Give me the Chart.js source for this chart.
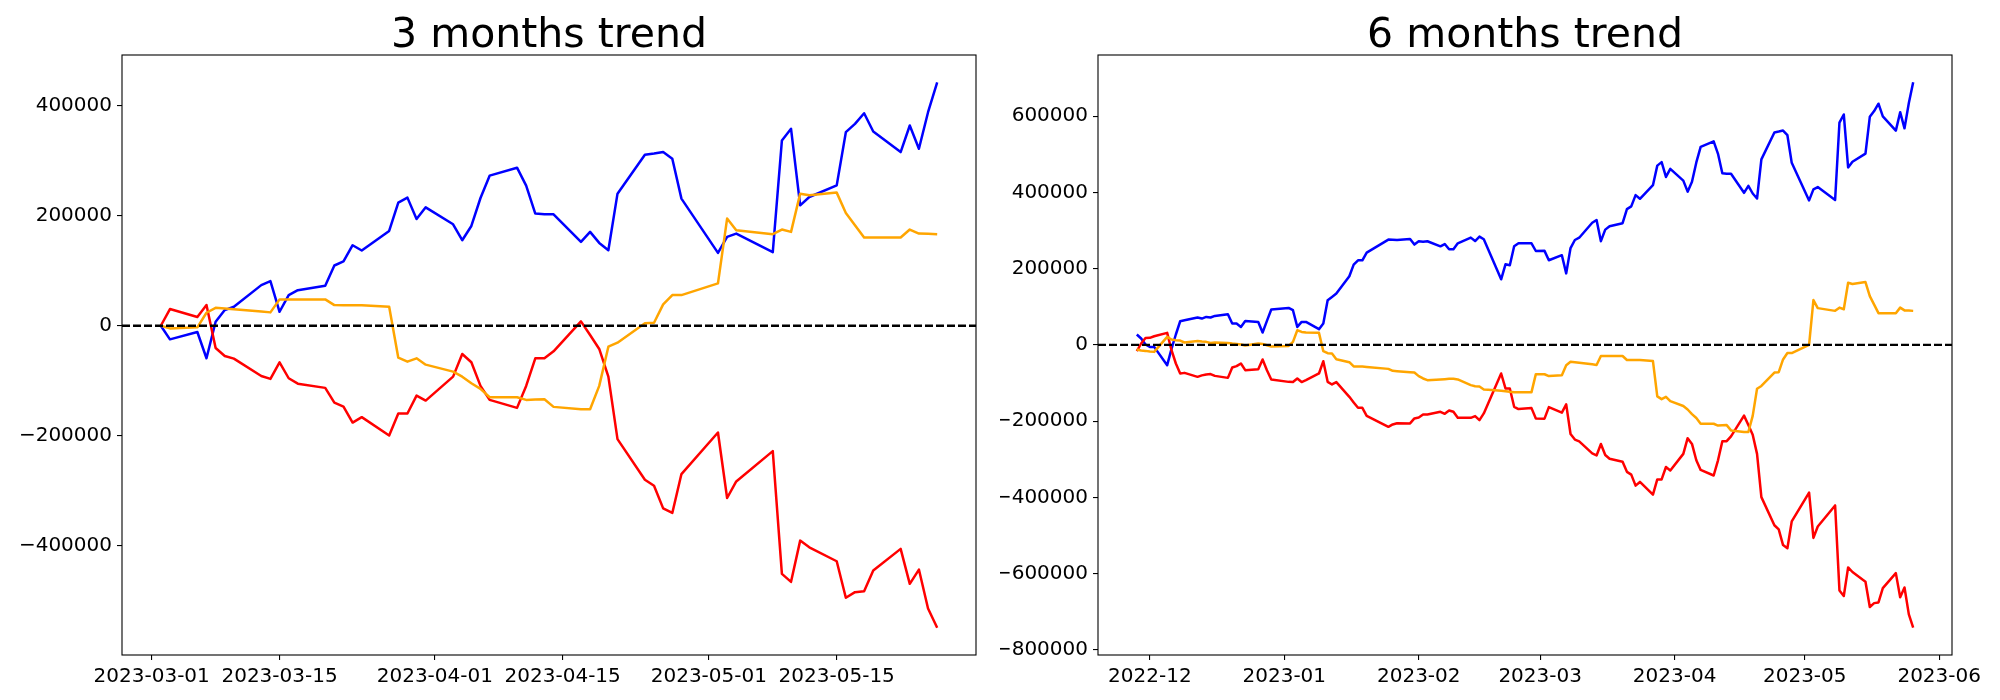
<!DOCTYPE html>
<html>
<head>
<meta charset="utf-8">
<script src="https://cdn.jsdelivr.net/npm/chart.js@4.4.0/dist/chart.umd.min.js"></script>
<style>
  html, body { margin: 0; padding: 0; background: #fff; }
  #wrap { position: relative; width: 2000px; height: 700px; }
  .panel { position: absolute; top: 0; width: 1000px; height: 700px; }
</style>
</head>
<body>
<div id="wrap">
  <div class="panel" style="left:0"><canvas id="chart3m" width="1000" height="700"></canvas></div>
  <div class="panel" style="left:1000px"><canvas id="chart6m" width="1000" height="700"></canvas></div>
</div>
<script>
// trading days, 3 month window
const dates3m = [
  '2023-03-02','2023-03-03','2023-03-06','2023-03-07','2023-03-08','2023-03-09','2023-03-10','2023-03-13','2023-03-14','2023-03-15','2023-03-16',
  '2023-03-17','2023-03-20','2023-03-21','2023-03-22','2023-03-23','2023-03-24','2023-03-27','2023-03-28','2023-03-29','2023-03-30','2023-03-31',
  '2023-04-03','2023-04-04','2023-04-05','2023-04-06','2023-04-07','2023-04-10','2023-04-11','2023-04-12','2023-04-13','2023-04-14',
  '2023-04-17','2023-04-18','2023-04-19','2023-04-20','2023-04-21','2023-04-24','2023-04-25','2023-04-26','2023-04-27','2023-04-28',
  '2023-05-02','2023-05-03','2023-05-04','2023-05-08','2023-05-09','2023-05-10','2023-05-11','2023-05-12','2023-05-15','2023-05-16',
  '2023-05-17','2023-05-18','2023-05-19','2023-05-22','2023-05-23','2023-05-24','2023-05-25','2023-05-26'
];
const blue3m = [
  0, -24700, -11400, -59100, 7300, 28500, 34500, 73800, 81000, 25400, 55700, 64700, 72500, 109500, 116800, 146300, 136700, 172300, 223700, 232800, 194000, 215200,
  184400, 155400, 181300, 232100, 272700, 287200, 254600, 203800, 202500, 202500, 152300, 170500, 150500, 137300, 240000, 310800, 313000, 315600, 303500, 231000,
  132400, 161400, 167500, 133600, 336700, 357900, 218800, 233900, 255100, 351700, 366900, 386200, 353000, 315500, 363900, 321600, 388000, 442400
];
const red3m = [
  0, 30300, 15800, 37500, -40400, -54900, -59800, -91200, -96600, -66400, -95400, -105200, -112900, -139600, -146900, -175900, -166100, -199500, -159500, -159500, -126900, -136000,
  -92500, -51300, -66400, -109300, -134700, -149200, -109300, -59200, -59200, -46500, 7900, -16900, -42200, -92500, -206000, -279800, -290700, -331800, -340200, -269500,
  -194000, -313000, -282900, -227800, -450800, -465300, -390400, -402500, -427900, -494300, -484100, -482300, -444800, -405400, -468900, -443000, -513700, -548700
];
const orange3m = [
  0, -4800, -2900, 23600, 32600, 31500, 30000, 26000, 24300, 47900, 47900, 47900, 47900, 37500, 37400, 37300, 37300, 34500, -58000, -65300, -59200, -70700,
  -83400, -92500, -104500, -114800, -129900, -129900, -134700, -134000, -133500, -147400, -151600, -151600, -109300, -38100, -30800, 4400, 5400, 38800, 55700, 55700,
  76900, 194700, 173500, 166300, 174800, 170500, 240000, 237000, 241900, 204900, 182600, 160300, 160300, 160300, 174800, 167500, 167000, 166300
];

// trading days, 6 month window
const dates6m = [
  '2022-11-28','2022-11-29','2022-11-30',
  '2022-12-01','2022-12-02','2022-12-05','2022-12-06','2022-12-07','2022-12-08','2022-12-09','2022-12-12','2022-12-13','2022-12-14','2022-12-15',
  '2022-12-16','2022-12-19','2022-12-20','2022-12-21','2022-12-22','2022-12-23','2022-12-26','2022-12-27','2022-12-28','2022-12-29',
  '2023-01-02','2023-01-03','2023-01-04','2023-01-05','2023-01-06','2023-01-09','2023-01-10','2023-01-11','2023-01-12','2023-01-13',
  '2023-01-16','2023-01-17','2023-01-18','2023-01-19','2023-01-20','2023-01-25','2023-01-26','2023-01-27','2023-01-30','2023-01-31',
  '2023-02-01','2023-02-02','2023-02-03','2023-02-06','2023-02-07','2023-02-08','2023-02-09','2023-02-10','2023-02-13','2023-02-14',
  '2023-02-15','2023-02-16','2023-02-17','2023-02-20','2023-02-21','2023-02-22','2023-02-23','2023-02-24','2023-02-27','2023-02-28'
].concat(dates3m);
const blue6m = [
  27300, 16800, 1000,
  -5200, -5200, -53200, -10500, 27300, 62100, 64700, 71800, 69100, 73400, 71800, 76000, 80500, 56000, 56000, 47200, 62900, 60300, 32500, 62900, 92800,
  97000, 91000, 47200, 60300, 60300, 41200, 56000, 117200, 125800, 134600, 180100, 210700, 222000, 222000, 242200, 276300, 276000, 275000, 277900, 263200,
  271800, 271000, 272000, 258700, 264700, 250800, 251100, 266600, 281500, 272600, 284100, 277100, 250800, 172200, 211500, 208900, 258700, 266600, 266600, 246400,
  246800, 222100, 235400, 187700, 254100, 275300, 281300, 320600, 327800, 272200, 302500, 311500, 319300, 356300, 363600, 393100, 383500, 419100, 470500, 479600, 440800, 462000,
  431200, 402200, 428100, 478900, 519500, 534000, 501400, 450600, 449300, 449300, 399100, 417300, 397300, 384100, 486800, 557600, 559800, 562400, 550300, 477800,
  379200, 408200, 414300, 380400, 583500, 604700, 465600, 480700, 501900, 598500, 613700, 633000, 599800, 562300, 610700, 568400, 634800, 689200
];
const red6m = [
  -16500, 3700, 18300,
  18600, 22800, 31500, -13900, -48800, -75000, -73400, -83900, -80000, -77600, -76500, -81300, -86500, -59200, -55800, -48800, -66300, -63700, -38300, -66300, -90700,
  -97000, -97500, -88100, -97500, -92500, -75000, -42700, -97000, -103800, -97500, -136300, -151000, -165100, -165100, -186100, -214900, -208700, -205500, -206000, -192900,
  -190300, -182400, -182400, -175600, -180900, -172000, -175600, -191300, -191300, -186900, -197400, -179800, -153600, -75000, -114300, -114300, -162500, -168500, -165900, -192900,
  -193500, -163200, -177700, -156000, -233900, -248400, -253300, -284700, -290100, -259900, -288900, -298700, -306400, -333100, -340400, -369400, -359600, -393000, -353000, -353000, -320400, -329500,
  -286000, -244800, -259900, -302800, -328200, -342700, -302800, -252700, -252700, -240000, -185600, -210400, -235700, -286000, -399500, -473300, -484200, -525300, -533700, -463000,
  -387500, -506500, -476400, -421300, -644300, -658800, -583900, -596000, -621400, -687800, -677600, -675800, -638300, -598900, -662400, -636500, -707200, -742200
];
const orange6m = [
  -12100, -14700, -15700,
  -17300, -18300, 21000, 14200, 12200, 11300, 6300, 10500, 8700, 8000, 5200, 6300, 5200, 3500, 2600, 900, -1700, 3500, 2600, -900, -4400,
  -2600, 8000, 38500, 34100, 32500, 31600, -16500, -21800, -22700, -37500, -45300, -56600, -56600, -56600, -57700, -62900, -68100, -69000, -71600, -72400,
  -82000, -88100, -92500, -90700, -89900, -89100, -89100, -90700, -105600, -108300, -109100, -116900, -117700, -120600, -121500, -123200, -124000, -124000, -124000, -76800,
  -77000, -81800, -79900, -53400, -44400, -45500, -47000, -51000, -52700, -29100, -29100, -29100, -29100, -39500, -39600, -39700, -39700, -42500, -135000, -142300, -136200, -147700,
  -160400, -169500, -181500, -191800, -206900, -206900, -211700, -211000, -210500, -224400, -228600, -228600, -186300, -115100, -107800, -72600, -71600, -38200, -21300, -21300,
  -100, 117700, 96500, 89300, 97800, 93500, 163000, 160000, 164900, 127900, 105600, 83300, 83300, 83300, 97800, 90500, 90000, 89300
];

const xTicks3m = ['2023-03-01', '2023-03-15', '2023-04-01', '2023-04-15', '2023-05-01', '2023-05-15'];
const xTicks6m = ['2022-12', '2023-01', '2023-02', '2023-03', '2023-04', '2023-05', '2023-06'];
const yTicks3m = [-400000, -200000, 0, 200000, 400000];
const yTicks6m = [-800000, -600000, -400000, -200000, 0, 200000, 400000, 600000];

const FONT = "'DejaVu Sans', sans-serif";

function toDay(s) {
  const p = s.split('-').map(Number);
  return Date.UTC(p[0], p[1] - 1, p[2] || 1) / 86400000;
}

function fmtY(v) {
  return v < 0 ? '\u2212' + Math.abs(v) : String(v);
}

// frame around the plot, dashed zero line and the title
const framePlugin = {
  id: 'frame',
  afterDatasetsDraw(chart, args, opts) {
    const ctx = chart.ctx;
    const a = chart.chartArea;
    const y0 = chart.scales.y.getPixelForValue(0);
    ctx.save();
    ctx.strokeStyle = '#000';
    ctx.lineWidth = 2.3;
    ctx.setLineDash([8, 3]);
    ctx.beginPath();
    ctx.moveTo(a.left, y0);
    ctx.lineTo(a.right, y0);
    ctx.stroke();
    ctx.setLineDash([]);
    ctx.lineWidth = 1.1;
    ctx.strokeRect(a.left, a.top, a.right - a.left, a.bottom - a.top);
    ctx.fillStyle = '#000';
    ctx.font = '41px ' + FONT;
    ctx.textAlign = 'center';
    ctx.textBaseline = 'alphabetic';
    ctx.fillText(opts.text, (a.left + a.right) / 2, a.top - 8);
    ctx.restore();
  }
};

function makeChart(id, title, dates, blue, red, orange, xTicks, yTicks, axisWidth, padRight) {
  const xs = dates.map(toDay);
  const all = blue.concat(red, orange);
  const ymin = Math.min(...all), ymax = Math.max(...all);
  const ym = (ymax - ymin) * 0.05;
  const xm = (xs[xs.length - 1] - xs[0]) * 0.05;
  const line = (vals, color, order) => ({
    data: vals.map((v, i) => ({ x: xs[i], y: v })),
    borderColor: color,
    borderWidth: 2.5,
    borderJoinStyle: 'round',
    pointRadius: 0,
    tension: 0,
    fill: false,
    order: order
  });
  return new Chart(document.getElementById(id), {
    type: 'line',
    data: {
      datasets: [line(blue, '#0000ff', 2), line(red, '#ff0000', 1), line(orange, '#ffa500', 0)]
    },
    options: {
      responsive: false,
      animation: false,
      devicePixelRatio: 1,
      layout: { padding: { top: 55, right: padRight, left: 0, bottom: 0 } },
      plugins: {
        legend: { display: false },
        tooltip: { enabled: false },
        frame: { text: title }
      },
      scales: {
        x: {
          type: 'linear',
          min: xs[0] - xm,
          max: xs[xs.length - 1] + xm,
          afterBuildTicks: s => { s.ticks = xTicks.map(t => ({ value: toDay(t) })); },
          afterFit: s => { s.height = 45; s.paddingLeft = 0; s.paddingRight = 0; },
          grid: { drawOnChartArea: false, drawTicks: true, tickLength: 5, color: '#000', lineWidth: 1.1 },
          border: { display: false },
          ticks: {
            autoSkip: false, maxRotation: 0, padding: 5, color: '#000',
            font: { family: FONT, size: 20 },
            callback: (v, i) => xTicks[i]
          }
        },
        y: {
          min: ymin - ym,
          max: ymax + ym,
          afterBuildTicks: s => { s.ticks = yTicks.map(v => ({ value: v })); },
          afterFit: s => { s.width = axisWidth; },
          grid: { drawOnChartArea: false, drawTicks: true, tickLength: 5, color: '#000', lineWidth: 1.1 },
          border: { display: false },
          ticks: {
            autoSkip: false, padding: 5, color: '#000',
            font: { family: FONT, size: 20 },
            callback: v => fmtY(v)
          }
        }
      }
    },
    plugins: [framePlugin]
  });
}

makeChart('chart3m', '3 months trend', dates3m, blue3m, red3m, orange3m, xTicks3m, yTicks3m, 122, 24);
makeChart('chart6m', '6 months trend', dates6m, blue6m, red6m, orange6m, xTicks6m, yTicks6m, 98, 48);
</script>
</body>
</html>
